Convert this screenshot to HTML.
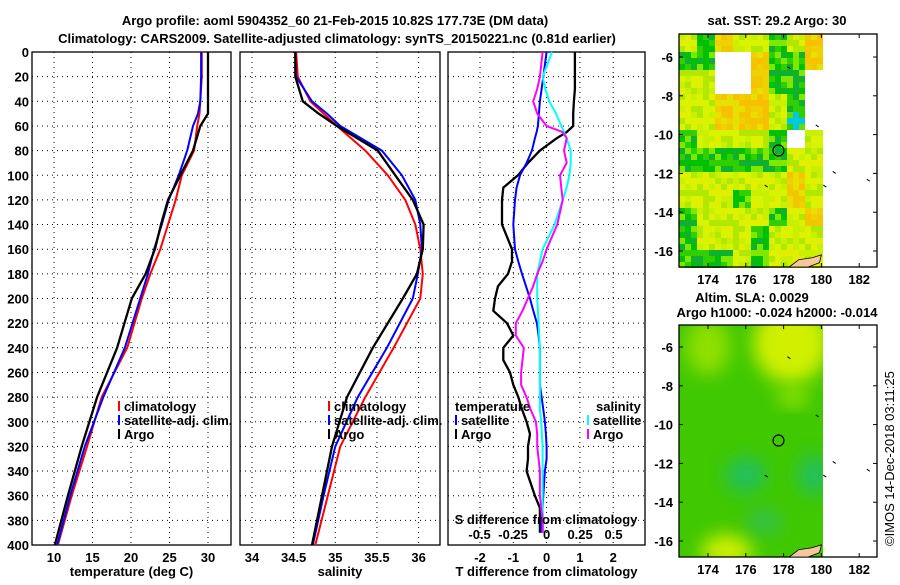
<!DOCTYPE html>
<html><head><meta charset="utf-8"><style>
body{margin:0;background:#fff}
svg text{font-family:"Liberation Sans",sans-serif;font-weight:bold;font-size:13px;fill:#000}
</style></head><body>
<svg id="chart" width="900" height="580" viewBox="0 0 900 580" xmlns="http://www.w3.org/2000/svg">
<text x="335" y="25" text-anchor="middle" font-size="14">Argo profile: aoml 5904352_60 21-Feb-2015 10.82S 177.73E (DM data)</text>
<text x="337" y="43" text-anchor="middle" font-size="14">Climatology: CARS2009. Satellite-adjusted climatology: synTS_20150221.nc (0.81d earlier)</text>
<g id="p1"></g>
<g id="p2"></g>
<g id="p3"></g>
<g id="m1"></g>
<g id="m2"></g>
<text x="777" y="25" text-anchor="middle">sat. SST: 29.2 Argo: 30</text>
<text x="752" y="302" text-anchor="middle">Altim. SLA: 0.0029</text>
<text x="777" y="317" text-anchor="middle">Argo h1000: -0.024 h2000: -0.014</text>
<text transform="translate(894,546) rotate(-90)" font-size="12" style="font-weight:normal">©IMOS 14-Dec-2018 03:11:25</text>
</svg>
<script>
// ---- data ----
const depthTicks=[0,20,40,60,80,100,120,140,160,180,200,220,240,260,280,300,320,340,360,380,400];
const tDepths=[0,20,40,50,60,80,100,120,140,160,180,200,240,280,320,360,400];
const tempClim=[29.2,29.2,29.0,28.9,28.6,28.2,26.6,25.8,24.8,23.8,22.5,21.4,19.5,16.2,14.3,12.3,10.5];
const tempSat=[29.1,29.1,29.0,28.7,28.05,27.3,26.2,24.9,24.0,23.0,22.2,21.2,19.2,16.4,14.0,12.1,10.4];
const tempArgo=[30.0,30.0,30.0,30.0,29.0,28.05,26.4,24.8,23.9,23.1,21.9,20.1,18.2,15.6,13.6,11.8,10.1];
const salClim=[34.53,34.55,34.70,34.86,35.02,35.36,35.63,35.84,35.96,36.02,36.05,36.02,35.70,35.36,35.06,34.91,34.76];
const salSat=[34.52,34.53,34.72,34.9,35.06,35.56,35.80,35.96,36.02,36.04,35.99,35.93,35.62,35.27,35.00,34.86,34.73];
const salArgo=[34.52,34.52,34.61,34.8,35.02,35.51,35.72,35.93,36.06,36.05,35.98,35.81,35.45,35.14,34.96,34.84,34.72];
const dDepths=[0,20,30,40,50,60,65,70,80,90,100,110,120,140,160,170,180,190,200,210,220,230,240,250,260,270,280,290,300,310,320,330,340,360,370,380,390];
const dTArgo=[0.85,0.85,0.85,0.82,0.8,0.8,0.6,0.3,-0.2,-0.56,-0.86,-1.3,-1.34,-1.34,-1.04,-1.04,-1.16,-1.46,-1.55,-1.6,-1.19,-1.0,-1.3,-1.3,-1.1,-1.0,-0.85,-0.74,-0.6,-0.5,-0.56,-0.56,-0.6,-0.35,-0.2,-0.2,-0.2];
const dTSat=[0,-0.1,-0.15,-0.2,-0.23,-0.26,-0.3,-0.35,-0.44,-0.6,-0.8,-0.9,-0.95,-1.0,-0.95,-0.85,-0.74,-0.62,-0.5,-0.4,-0.29,-0.24,-0.2,-0.2,-0.2,-0.2,-0.15,-0.1,-0.05,-0.02,0,0,-0.05,-0.1,-0.12,-0.15,-0.15];
const dSSat=[0.04,-0.03,-0.01,0.02,0.07,0.11,0.13,0.15,0.18,0.18,0.17,0.15,0.12,0.06,-0.03,-0.05,-0.07,-0.07,-0.07,-0.065,-0.06,-0.055,-0.05,-0.05,-0.05,-0.05,-0.05,-0.05,-0.04,-0.035,-0.03,-0.03,-0.03,-0.03,-0.03,-0.025,-0.025];
const dSArgo=[-0.03,-0.05,-0.07,-0.1,-0.07,0.0,0.12,0.15,0.13,0.15,0.1,0.11,0.12,0.08,0.0,-0.03,-0.07,-0.1,-0.14,-0.18,-0.23,-0.23,-0.17,-0.18,-0.19,-0.19,-0.15,-0.12,-0.08,-0.07,-0.07,-0.06,-0.05,-0.05,-0.04,-0.03,-0.03];
const tTicks=[10,15,20,25,30], sTicks=[34,34.5,35,35.5,36], dTTicks=[-2,-1,0,1,2], dSTicks=[-0.5,-0.25,0,0.25,0.5];
const dSTickLabels=["-0.5","-0.25","0","0.25","0.5"];
const lonTicks=[174,176,178,180,182], latTicks=[-6,-8,-10,-12,-14,-16];
const sstGrid=["ygoyygyo","ggwwoggo","yywwoggw","yyoooygw","yyoooycw","gyyyygwy","ggggggyy","yyyyyyoy","yyygyyoy","gyyyygyo","gyyygyyy","gggygyyy"];
const argoLon=177.73, argoLat=-10.82;
// ---- helpers ----
const NS="http://www.w3.org/2000/svg";
function mk(parent,tag,attrs){const e=document.createElementNS(NS,tag);for(const k in attrs)e.setAttribute(k,attrs[k]);parent.appendChild(e);return e;}
const Y0=52,Y1=545;
const yD=d=>Y0+d/400*(Y1-Y0);
function panel(g,L,R,xs,ticks,labels,title,showY){
  const box=mk(g,'rect',{x:L,y:Y0,width:R-L,height:Y1-Y0,fill:'none',stroke:'#000','stroke-width':1.3});
  
  depthTicks.forEach(d=>{if(d>0&&d<400){const l=mk(g,'line',{x1:L,x2:R,y1:yD(d),y2:yD(d),stroke:'#000','stroke-dasharray':'1,4'});}
    if(showY){const t=mk(g,'text',{x:L-3,y:yD(d)+5,'text-anchor':'end'});t.textContent=d;}});
  ticks.forEach((v,i)=>{const x=xs(v);const l=mk(g,'line',{x1:x,x2:x,y1:Y0,y2:Y1,stroke:'#000','stroke-dasharray':'1,4'});
    const t=mk(g,'text',{x:x,y:562,'text-anchor':'middle'});t.textContent=labels?labels[i]:v;});
  const tt=mk(g,'text',{x:(L+R)/2,y:576,'text-anchor':'middle'});tt.textContent=title;
}
function line(g,xs,vals,depths,color,w,name){
  const pts=vals.map((v,i)=>xs(v).toFixed(1)+','+yD(depths[i]).toFixed(1)).join(' ');
  const p=mk(g,'polyline',{points:pts,fill:'none',stroke:color,'stroke-width':w,'stroke-linejoin':'round'});
  
}
function legend(g,x,y,color,label){
  if(color){const m=mk(g,'line',{x1:x,x2:x,y1:y-10,y2:y,stroke:color,'stroke-width':2});}
  const t=mk(g,'text',{x:x+5,y:y});t.textContent=label;
}
// panel 1
const p1=document.getElementById('p1'); const xT=v=>54+(v-10)*7.7;
panel(p1,32,231,xT,tTicks,null,'temperature (deg C)',true);
line(p1,xT,tempClim,tDepths,'#f00',2,'temp-climatology-line');
line(p1,xT,tempSat,tDepths,'#00f',2,'temp-satellite-line');
line(p1,xT,tempArgo,tDepths,'#000',2.3,'temp-argo-line');
legend(p1,119,411,'#f00','climatology');legend(p1,119,425,'#00f','satellite-adj. clim.');legend(p1,119,439,'#000','Argo');
// panel 2
const p2=document.getElementById('p2'); const xS=v=>252+(v-34)*83.3;
panel(p2,240,440,xS,sTicks,null,'salinity',false);
line(p2,xS,salClim,tDepths,'#f00',2,'sal-climatology-line');
line(p2,xS,salSat,tDepths,'#00f',2,'sal-satellite-line');
line(p2,xS,salArgo,tDepths,'#000',2.3,'sal-argo-line');
legend(p2,329,411,'#f00','climatology');legend(p2,329,425,'#00f','satellite-adj. clim.');legend(p2,329,439,'#000','Argo');
// panel 3
const p3=document.getElementById('p3'); const xDT=v=>546.6+v*33.3, xDS=v=>546.6+v*134;
panel(p3,448,645,xDT,dTTicks,null,'T difference from climatology',false);
line(p3,xDT,dTArgo,dDepths,'#000',2.3,'tdiff-argo-line');
line(p3,xDT,dTSat,dDepths,'#00f',2,'tdiff-satellite-line');
line(p3,xDS,dSSat,dDepths,'#0ff',2,'sdiff-satellite-line');
line(p3,xDS,dSArgo,dDepths,'#f0f',2,'sdiff-argo-line');
legend(p3,450,411,null,'temperature');legend(p3,456,425,'#00f','satellite');legend(p3,456,439,'#000','Argo');
legend(p3,591,411,null,'salinity');legend(p3,588,425,'#0ff','satellite');legend(p3,588,439,'#f0f','Argo');
{const t=mk(p3,'text',{x:546,y:524,'text-anchor':'middle'});t.textContent='S difference from climatology';
 dSTicks.forEach((v,i)=>{const s=mk(p3,'text',{x:xDS(v),y:539,'text-anchor':'middle'});s.textContent=dSTickLabels[i];});}
// maps
const mx=lon=>708+(lon-174)*18.9;
function mapFrame(g,top,bot,lat0y){
  const my=lat=>lat0y+(-6-lat)*19.4;
  const r=mk(g,'rect',{x:679,y:top,width:198,height:bot-top,fill:'none',stroke:'#000','stroke-width':1.3});
  
  lonTicks.forEach(v=>{mk(g,'line',{x1:mx(v),x2:mx(v),y1:top,y2:top+4,stroke:'#000'});mk(g,'line',{x1:mx(v),x2:mx(v),y1:bot,y2:bot-4,stroke:'#000'});
    const t=mk(g,'text',{x:mx(v),y:bot+17,'text-anchor':'middle'});t.textContent=v;});
  latTicks.forEach(v=>{mk(g,'line',{x1:679,x2:683,y1:my(v),y2:my(v),stroke:'#000'});mk(g,'line',{x1:877,x2:873,y1:my(v),y2:my(v),stroke:'#000'});
    const t=mk(g,'text',{x:673,y:my(v)+5,'text-anchor':'end'});t.textContent=v;});
  const land=mk(g,'path',{d:`M${mx(178.3)} ${bot} L${mx(178.8)} ${my(-16.45)} L${mx(179.5)} ${my(-16.35)} L${mx(180)} ${my(-16.2)} L${mx(179.9)} ${my(-16.6)} L${mx(179.3)} ${bot} Z`,fill:'#f5c79a',stroke:'#000','stroke-width':0.8});
  
  const c=mk(g,'circle',{cx:mx(argoLon),cy:my(argoLat),r:5.5,fill:'none',stroke:'#000','stroke-width':1.2});
  
  [[178.2,-6.5],[179.7,-9.5],[180.6,-11.9],[182.4,-12.3],[177.0,-12.6],[180.1,-12.6]].forEach(p=>mk(g,'line',{x1:mx(p[0]),y1:my(p[1]),x2:mx(p[0])+3,y2:my(p[1])+2,stroke:'#000'}));
}
const pal={y:['#c8f000','#e0f000','#b0e800','#d8f400'],o:['#f0d000','#f8c000','#e8e000','#f0c800'],g:['#30d000','#00c000','#80e800','#10b030'],c:['#00c8e0','#30d000','#00c8e0','#60e000'],w:['#fff','#fff','#fff','#fff']};
const m1=document.getElementById('m1');
const cw=6, ch=6;
for(let j=0;j<39;j++){for(let i=0;i<24;i++){
  const x=679+i*cw, y=34+j*ch; if(x>=823)continue;
  const lat=-4.81-(j*ch+3)/19.4, lon=172.47+(i*cw+3)/18.9;
  const r=Math.min(11,Math.max(0,Math.floor(-4.8-lat))), c=Math.min(7,Math.floor((lon-172.47)/0.95));
  const code=sstGrid[r][c];
  const k=(i*7+j*13+(i*j)%5)%4;
  const cell=mk(m1,'rect',{x:x,y:y,width:cw,height:ch,fill:pal[code][k]});
  
}}
mapFrame(m1,34,267,57);
const m2=document.getElementById('m2');
const defs=mk(m2,'defs',{});const f=mk(defs,'filter',{id:'bl',x:'-50%',y:'-50%',width:'200%',height:'200%'});mk(f,'feGaussianBlur',{stdDeviation:9});
mk(defs,'clipPath',{id:'cp'});mk(defs.lastChild,'rect',{x:679,y:325,width:144,height:232});
const bg=mk(m2,'g',{'clip-path':'url(#cp)'});
mk(bg,'rect',{x:679,y:325,width:144,height:232,fill:'#40c800'});
const my2=lat=>347+(-6-lat)*19.4;
[[178.4,-5.8,38,40,'#d0f000'],[174.0,-6,22,28,'#90e000'],[175,-16.5,26,16,'#d0f000'],[176,-12.6,20,18,'#20c060'],[179.6,-12.6,16,20,'#20c060'],[177,-15,18,12,'#30c050'],[178.5,-8.6,16,8,'#a0e800']].forEach(b=>mk(bg,'ellipse',{cx:mx(b[0]),cy:my2(b[1]),rx:b[2],ry:b[3],fill:b[4],filter:'url(#bl)'}));
mapFrame(m2,325,557,347);
</script>
</body></html>
